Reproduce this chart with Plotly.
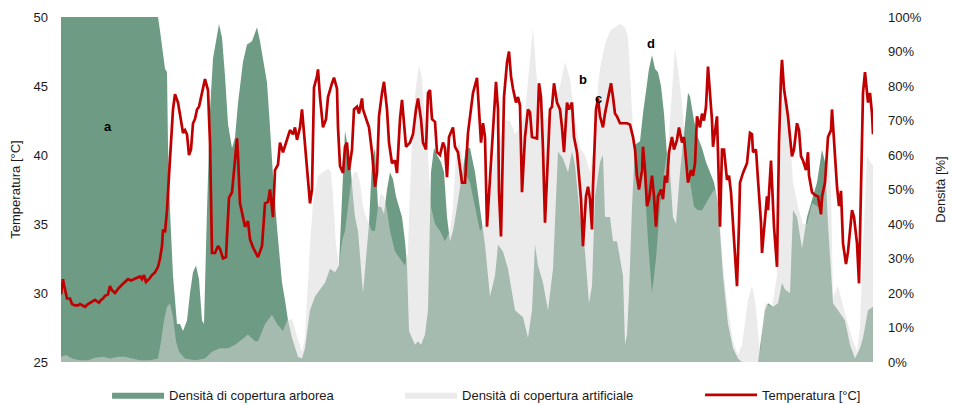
import plotly.graph_objects as go

# Route profile: distance along the transect [m] paired with each measurement.

# Tree-canopy cover density [%]
arborea = [
    (0, 100), (970, 100), (990, 96), (1020, 90), (1040, 85), (1060, 84), (1070, 63), (1090, 44),
    (1120, 25), (1160, 11), (1190, 11), (1220, 9), (1260, 12), (1290, 20), (1320, 26), (1350, 28),
    (1380, 24), (1410, 12), (1430, 11), (1460, 44), (1490, 73), (1520, 88), (1560, 95), (1580, 98),
    (1610, 94), (1640, 83), (1670, 69), (1710, 62), (1740, 65), (1770, 75), (1820, 87), (1860, 92),
    (1910, 93), (1960, 97), (1990, 93), (2020, 88), (2060, 81), (2090, 68), (2120, 54), (2160, 39),
    (2210, 23), (2240, 18), (2270, 12), (2310, 7), (2340, 4), (2370, 1.5), (2410, 1), (2440, 4),
    (2490, 15), (2540, 19), (2590, 21), (2640, 23), (2690, 27), (2740, 26), (2780, 28), (2810, 50),
    (2840, 67), (2870, 62), (2900, 55), (2920, 48), (2940, 42), (2970, 38), (3000, 28), (3020, 20),
    (3050, 30), (3080, 40), (3110, 58), (3140, 62), (3170, 45), (3200, 45), (3230, 43), (3260, 50),
    (3290, 55), (3320, 53), (3350, 48), (3380, 45), (3410, 42), (3440, 35), (3460, 28), (3480, 9),
    (3510, 7), (3540, 5), (3570, 6), (3600, 5), (3640, 8), (3670, 15), (3700, 55), (3730, 62),
    (3760, 60), (3800, 58), (3830, 55), (3860, 42), (3890, 35), (3920, 38), (3960, 45), (3990, 50),
    (4020, 56), (4050, 62), (4090, 62), (4140, 55), (4190, 45), (4240, 34), (4290, 19), (4340, 25),
    (4370, 34), (4420, 32), (4470, 27), (4540, 15), (4620, 13), (4670, 7), (4710, 15), (4740, 34),
    (4770, 28), (4820, 23), (4870, 15), (4920, 27), (4970, 61), (5020, 59), (5070, 55), (5110, 61),
    (5140, 57), (5190, 42), (5240, 32), (5280, 17), (5310, 22), (5340, 48), (5390, 58), (5420, 60),
    (5440, 42), (5490, 42), (5520, 35), (5560, 35), (5590, 30), (5620, 25), (5640, 5), (5660, 8),
    (5680, 20), (5710, 45), (5740, 63), (5790, 64), (5820, 72), (5850, 78), (5880, 85), (5910, 89),
    (5940, 85), (5970, 84), (6000, 80), (6030, 72), (6060, 60), (6090, 55), (6120, 42), (6150, 40),
    (6190, 55), (6240, 69), (6270, 78), (6290, 77), (6330, 70), (6370, 65), (6410, 62), (6450, 58),
    (6490, 55), (6530, 52), (6570, 46), (6620, 25), (6670, 11), (6720, 4), (6770, 1), (6810, 0),
    (6970, 0), (6990, 4), (7040, 15), (7070, 17), (7120, 16), (7170, 17), (7210, 23), (7240, 21),
    (7290, 20), (7320, 44), (7360, 42), (7410, 33), (7460, 42), (7510, 47), (7560, 52), (7610, 61.5),
    (7640, 58), (7670, 40), (7720, 17), (7770, 15), (7840, 12), (7890, 5), (7940, 1), (7990, 4),
    (8020, 7), (8070, 15), (8120, 16),
]

# Artificial cover density [%]
artificiale = [
    (0, 1.5), (50, 2), (110, 1), (190, 0.5), (270, 0.5), (340, 1.2), (420, 1.5), (490, 1),
    (570, 1.5), (640, 1.5), (710, 1), (790, 0.5), (890, 0.5), (970, 1), (1000, 6), (1030, 12),
    (1060, 16), (1090, 17), (1120, 13), (1150, 6), (1180, 3), (1240, 1), (1340, 0.5), (1440, 1),
    (1510, 3), (1590, 4), (1670, 4), (1740, 5), (1810, 6.5), (1870, 8), (1940, 6), (1970, 6),
    (2040, 11), (2110, 13.7), (2160, 11), (2220, 9), (2260, 12), (2310, 12.5), (2370, 6.5), (2410, 3),
    (2440, 7), (2490, 34), (2520, 46), (2570, 54), (2620, 55), (2670, 56), (2700, 55), (2720, 48),
    (2750, 34), (2780, 28), (2810, 35), (2840, 38), (2870, 45), (2900, 52), (2930, 55), (2960, 55),
    (2990, 52), (3020, 45), (3050, 42), (3080, 40), (3110, 38), (3140, 38), (3170, 45), (3200, 49),
    (3230, 48), (3260, 44), (3290, 38), (3340, 32), (3390, 30), (3440, 28), (3470, 32), (3490, 50),
    (3520, 70), (3550, 80), (3580, 86), (3610, 82), (3640, 70), (3670, 60), (3700, 45), (3740, 40),
    (3790, 38), (3840, 35), (3890, 38), (3920, 45), (3950, 60), (3980, 64), (4010, 60), (4040, 55),
    (4090, 52), (4140, 45), (4190, 38), (4240, 40), (4290, 50), (4340, 60), (4390, 65), (4440, 70),
    (4490, 70), (4540, 66), (4590, 68), (4640, 72), (4690, 88), (4720, 97), (4750, 85), (4790, 72),
    (4840, 70), (4890, 72), (4940, 75), (4990, 80), (5040, 87), (5090, 82), (5140, 70), (5190, 62),
    (5240, 60), (5290, 55), (5340, 65), (5370, 80), (5390, 85), (5440, 92), (5490, 96), (5590, 98),
    (5640, 97), (5670, 94), (5710, 73), (5740, 54), (5770, 50), (5810, 60), (5840, 50), (5870, 35),
    (5910, 20), (5950, 30), (5990, 45), (6030, 55), (6070, 62), (6110, 80), (6140, 91), (6170, 85),
    (6210, 75), (6250, 60), (6290, 52), (6330, 45), (6370, 44), (6410, 44), (6450, 46), (6490, 48),
    (6530, 50), (6570, 48), (6620, 28), (6670, 15), (6720, 6), (6770, 2), (6810, 5), (6870, 18),
    (6910, 22), (6940, 18), (6970, 8), (6990, 3), (7040, 17), (7110, 16), (7160, 25), (7190, 60),
    (7210, 75), (7250, 77), (7270, 76), (7320, 52), (7370, 45), (7420, 40), (7460, 40), (7510, 46),
    (7570, 45), (7610, 44), (7640, 50), (7670, 60), (7700, 50), (7720, 19), (7770, 22), (7840, 14),
    (7910, 7), (7960, 3), (7990, 10), (8020, 34), (8060, 60), (8090, 58), (8120, 57),
]

# Air temperature [°C]
temperatura = [
    (0, 29.9), (10, 30.4), (20, 31.0), (30, 30.6), (60, 29.6), (90, 29.6), (110, 29.2), (140, 29.1),
    (170, 29.1), (190, 29.2), (220, 29.1), (240, 29.0), (270, 29.2), (290, 29.3), (320, 29.4), (340, 29.5),
    (360, 29.4), (380, 29.3), (400, 29.5), (420, 29.6), (440, 29.8), (470, 29.9), (490, 30.5), (510, 30.2),
    (540, 30.0), (570, 30.3), (610, 30.6), (640, 30.8), (670, 31.0), (700, 30.9), (730, 31.0), (760, 31.1),
    (790, 31.2), (810, 31.0), (830, 31.3), (850, 30.8), (880, 31.0), (910, 31.3), (940, 31.5), (970, 31.9),
    (990, 32.5), (1010, 33.4), (1020, 34.6), (1040, 34.4), (1060, 36.0), (1080, 38.5), (1100, 40.9), (1120, 43.3),
    (1140, 44.4), (1170, 43.8), (1200, 42.5), (1220, 41.6), (1240, 41.8), (1260, 41.5), (1280, 40.0), (1300, 40.4),
    (1320, 42.3), (1340, 42.6), (1360, 43.3), (1380, 43.5), (1410, 44.5), (1440, 45.5), (1470, 44.7), (1490, 40.9),
    (1510, 32.9), (1540, 32.9), (1570, 33.4), (1590, 33.2), (1620, 32.5), (1650, 32.6), (1660, 34.1), (1680, 36.9),
    (1710, 37.3), (1730, 38.9), (1750, 40.9), (1760, 41.2), (1770, 39.9), (1790, 36.5), (1820, 35.5), (1840, 34.8),
    (1870, 35.2), (1890, 33.9), (1920, 33.3), (1950, 32.9), (1970, 32.6), (2010, 33.4), (2040, 36.5), (2070, 36.6),
    (2090, 37.5), (2120, 35.5), (2140, 38.9), (2170, 39.3), (2190, 40.9), (2220, 40.2), (2260, 41.1), (2290, 41.8),
    (2320, 41.5), (2340, 42.0), (2360, 41.1), (2390, 42.0), (2410, 43.3), (2430, 41.5), (2460, 38.9), (2490, 36.5),
    (2510, 37.5), (2530, 44.9), (2560, 45.7), (2570, 46.2), (2590, 44.2), (2610, 42.3), (2620, 42.0), (2650, 42.6),
    (2670, 44.2), (2710, 45.2), (2730, 45.6), (2760, 44.8), (2770, 42.0), (2790, 39.2), (2820, 38.7), (2840, 40.6),
    (2860, 40.9), (2880, 38.9), (2910, 40.4), (2930, 43.3), (2960, 43.5), (2980, 43.0), (3010, 44.1), (3020, 43.3),
    (3050, 42.6), (3080, 42.0), (3110, 40.2), (3140, 37.7), (3160, 38.7), (3180, 42.8), (3210, 44.5), (3230, 45.3),
    (3260, 43.3), (3280, 40.9), (3310, 39.4), (3340, 39.6), (3360, 38.7), (3390, 42.6), (3410, 44.0), (3430, 42.0),
    (3450, 40.6), (3490, 40.9), (3520, 41.5), (3550, 43.3), (3570, 44.1), (3600, 42.6), (3620, 40.9), (3650, 40.4),
    (3670, 44.5), (3690, 44.7), (3710, 42.6), (3740, 42.4), (3760, 40.2), (3790, 40.0), (3820, 40.9), (3840, 40.5),
    (3860, 38.4), (3880, 41.3), (3920, 42.0), (3940, 40.6), (3970, 40.2), (4010, 38.0), (4040, 38.0), (4070, 41.6),
    (4100, 43.3), (4120, 44.5), (4160, 45.6), (4180, 42.8), (4200, 40.9), (4220, 42.3), (4240, 41.3), (4260, 34.8),
    (4280, 37.0), (4310, 40.9), (4320, 42.0), (4350, 45.3), (4370, 43.3), (4380, 37.3), (4400, 34.1), (4420, 40.9),
    (4430, 44.2), (4460, 46.7), (4480, 47.5), (4500, 45.7), (4520, 44.8), (4550, 43.8), (4570, 44.2), (4590, 43.6),
    (4610, 37.3), (4640, 41.3), (4670, 43.3), (4690, 43.1), (4710, 41.3), (4760, 41.2), (4780, 45.2), (4800, 44.2),
    (4820, 40.4), (4840, 35.1), (4870, 39.6), (4890, 43.3), (4910, 43.5), (4930, 45.2), (4960, 43.8), (4990, 43.3),
    (5010, 42.0), (5030, 40.2), (5060, 43.8), (5080, 43.3), (5110, 43.8), (5130, 41.3), (5160, 40.2), (5180, 38.6),
    (5200, 36.8), (5220, 33.4), (5250, 37.0), (5270, 37.7), (5290, 36.8), (5310, 34.6), (5320, 37.7), (5350, 43.3),
    (5370, 44.1), (5390, 42.8), (5420, 42.0), (5440, 43.0), (5470, 44.2), (5500, 45.2), (5520, 44.2), (5540, 43.0),
    (5560, 42.8), (5590, 42.3), (5620, 42.3), (5660, 42.3), (5690, 42.2), (5720, 41.3), (5740, 40.4), (5760, 38.5),
    (5780, 37.5), (5810, 38.9), (5820, 40.6), (5840, 38.9), (5860, 36.3), (5880, 36.8), (5910, 38.5), (5930, 37.0),
    (5950, 34.8), (5970, 37.0), (6000, 37.5), (6020, 36.8), (6040, 38.5), (6060, 38.0), (6080, 40.2), (6110, 41.3),
    (6130, 40.4), (6160, 41.1), (6180, 42.0), (6210, 40.9), (6230, 41.3), (6250, 39.4), (6270, 38.0), (6300, 38.9),
    (6320, 38.5), (6340, 39.4), (6360, 42.8), (6390, 42.0), (6410, 43.0), (6430, 42.5), (6450, 43.5), (6470, 46.4),
    (6490, 44.7), (6510, 42.5), (6520, 40.6), (6540, 41.8), (6560, 42.8), (6570, 40.2), (6590, 34.8), (6610, 40.4),
    (6630, 40.4), (6660, 38.2), (6680, 38.5), (6700, 37.3), (6720, 35.1), (6740, 32.4), (6760, 30.5), (6780, 35.0),
    (6790, 38.0), (6820, 38.7), (6860, 39.4), (6890, 41.6), (6910, 41.5), (6920, 40.2), (6950, 40.4), (6970, 38.2),
    (7000, 35.1), (7010, 32.9), (7030, 34.8), (7060, 37.0), (7070, 36.0), (7100, 39.6), (7110, 38.0), (7130, 34.8),
    (7160, 31.9), (7180, 40.9), (7200, 45.7), (7210, 46.9), (7230, 44.8), (7260, 43.5), (7270, 42.8), (7290, 41.3),
    (7310, 39.9), (7330, 40.4), (7360, 42.3), (7380, 41.8), (7400, 39.9), (7420, 39.6), (7450, 38.9), (7470, 40.2),
    (7480, 38.5), (7510, 37.3), (7540, 37.1), (7570, 37.0), (7600, 35.7), (7610, 37.0), (7640, 38.0), (7670, 41.3),
    (7700, 41.8), (7710, 43.3), (7730, 40.9), (7760, 37.7), (7780, 36.3), (7800, 37.4), (7820, 33.6), (7850, 32.1),
    (7870, 33.0), (7890, 34.6), (7910, 36.0), (7930, 35.5), (7960, 33.6), (7980, 30.7), (8000, 38.0), (8020, 44.5),
    (8040, 46.0), (8070, 43.8), (8090, 44.5), (8110, 43.0), (8120, 41.5),
]

# Site labels along the route: (distance [m], temperature level [°C], label)
siti = [(470, 42.05, "a"), (5220, 45.45, "b"), (5370, 44.1, "c"), (5900, 48.1, "d")]

temp_ticks = [25, 30, 35, 40, 45, 50]
dens_ticks = list(range(0, 101, 10))
dens_labels = [f"{v}%" for v in dens_ticks]

VERDE = "#6e9b83"
GRIGIO = "rgba(217,217,217,0.52)"
ROSSO = "#c00000"
FONT = "Liberation Sans, Arial, sans-serif"
TESTO = "#1a1a1a"


def split(pairs):
    return [p[0] for p in pairs], [p[1] for p in pairs]


arb_x, arb_y = split(arborea)
art_x, art_y = split(artificiale)
tmp_x, tmp_y = split(temperatura)

fig = go.Figure()
fig.add_trace(go.Scatter(
    x=arb_x, y=arb_y, name="Densità di copertura arborea", mode="lines",
    line=dict(width=0, color=VERDE), fill="tozeroy", fillcolor=VERDE,
    yaxis="y", hoverinfo="skip", legend="legend",
))
fig.add_trace(go.Scatter(
    x=art_x, y=art_y, name="Densità di copertura artificiale", mode="lines",
    line=dict(width=0, color=GRIGIO), fill="tozeroy", fillcolor=GRIGIO,
    yaxis="y", hoverinfo="skip", legend="legend2",
))
fig.add_trace(go.Scatter(
    x=tmp_x, y=tmp_y, name="Temperatura [°C]", mode="lines",
    line=dict(width=2.7, color=ROSSO), yaxis="y2", legend="legend3",
))

for d, t, lab in siti:
    fig.add_annotation(x=d, y=t, xref="x", yref="y2", text=f"<b>{lab}</b>",
                       showarrow=False, font=dict(size=13, color="#000", family=FONT))


def legenda(xpos):
    return dict(
        orientation="h", x=xpos, xanchor="left",
        yref="container", y=0.025, yanchor="middle",
        itemwidth=52, font=dict(size=13, family=FONT, color=TESTO),
        bgcolor="rgba(0,0,0,0)",
    )


fig.update_layout(
    width=953, height=405,
    margin=dict(l=61, r=80, t=17, b=43, autoexpand=False),
    paper_bgcolor="white", plot_bgcolor="white",
    font=dict(family=FONT, size=13, color=TESTO),
    xaxis=dict(range=[0, 8120], visible=False),
    yaxis=dict(
        side="right", range=[0, 100], tickmode="array",
        tickvals=dens_ticks, ticktext=dens_labels,
        showgrid=False, zeroline=False, showline=False, ticks="",
        ticklabelstandoff=14,
        title=dict(text="Densità [%]", standoff=15, font=dict(size=13)),
    ),
    yaxis2=dict(
        overlaying="y", side="left", range=[25, 50], tickvals=temp_ticks,
        showgrid=False, zeroline=False, showline=False, ticks="",
        ticklabelstandoff=12,
        title=dict(text="Temperatura [°C]", standoff=9, font=dict(size=13)),
    ),
    legend=legenda(0.0567),
    legend2=legenda(0.4175),
    legend3=legenda(0.787),
    showlegend=True,
)

fig.write_html("out.html")
